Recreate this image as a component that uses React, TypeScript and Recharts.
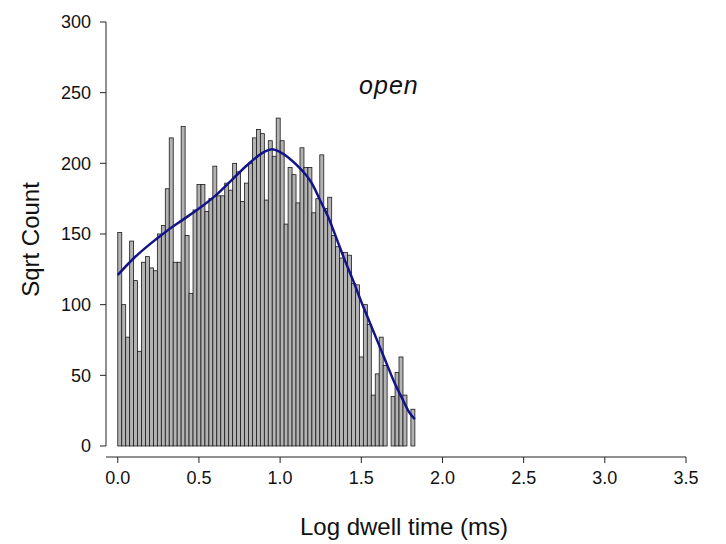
import {
  Bar,
  ComposedChart,
  Line,
  ReferenceDot,
  ReferenceLine,
  XAxis,
  YAxis,
} from "recharts";

// histogram of log dwell times, bins of 0.0244 starting at 0
const BIN_WIDTH = 0.0244;
const SQRT_COUNTS: (number | null)[] = [
  151, 100, 77, 145, 117, 67, 130, 134, 126, 124,
  150, 156, 182, 218, 130, 130, 226, 149, 108, 167,
  185, 185, 166, 175, 198, 177, 177, 186, 181, 200,
  194, 173, 186, 200, 218, 224, 221, 174, 216, 205,
  232, 216, 157, 197, 192, 172, 211, 197, 197, 165,
  175, 206, 168, 176, 149, 141, 133, 137, 135, 115,
  114, 63, 100, 86, 36, 51, 77, 57, null, 35,
  52, 63, 36, null, 26,
];

// fitted density curve
const FIT_X = [0, 0.1, 0.2, 0.3, 0.4, 0.5, 0.6, 0.7, 0.8, 0.9, 0.95, 1.0, 1.1, 1.2, 1.25, 1.3, 1.35, 1.4, 1.45, 1.5, 1.55, 1.6, 1.65, 1.7, 1.75, 1.8, 1.83];
const FIT_Y = [121, 133, 143, 152, 160, 168, 177, 188, 199, 208, 210, 208, 199, 185, 173, 161, 146, 131, 117, 102, 88, 74, 60, 46, 34, 23, 19];

const X_TICKS = [0, 0.5, 1.0, 1.5, 2.0, 2.5, 3.0, 3.5];
const Y_TICKS = [0, 50, 100, 150, 200, 250, 300];

const X_MIN = -0.0725;
const BAR_PX = 3.97;
const FONT = "'Liberation Sans', Arial, sans-serif";

const bars = SQRT_COUNTS.map((v, i) => ({ x: (i + 0.5) * BIN_WIDTH, count: v }));
const fit = FIT_X.map((x, i) => ({ x, fit: FIT_Y[i] }));

// draw each bin at full width around the centre the library computes
function BinShape(props: any) {
  const { x, y, width, height } = props;
  if (height == null || height <= 0) return null;
  const cx = x + width / 2;
  return (
    <rect
      x={cx - BAR_PX / 2}
      y={y}
      width={BAR_PX}
      height={height}
      fill="#b3b3b3"
      stroke="#1a1a1a"
      strokeWidth={0.8}
    />
  );
}

export default function App() {
  return (
    <div style={{ position: "absolute", left: 0, top: 0, width: 726, height: 544, background: "#fff" }}>
      <ComposedChart
        width={726}
        height={544}
        data={bars}
        margin={{ top: 22, right: 40, bottom: 0, left: 0 }}
        style={{ fontFamily: FONT }}
      >
        <XAxis
          type="number"
          dataKey="x"
          domain={[X_MIN, 3.5]}
          ticks={X_TICKS}
          allowDataOverflow
          tickFormatter={(v: number) => v.toFixed(1)}
          height={87}
          tickSize={6}
          tickMargin={8}
          stroke="#222"
          tick={{ fill: "#111", fontSize: 18 }}
          label={{ value: "Log dwell time (ms)", position: "insideBottom", offset: 9, dx: 8, fill: "#111", fontSize: 24 }}
        />
        <YAxis
          type="number"
          domain={[-7.8, 300]}
          ticks={Y_TICKS}
          allowDataOverflow
          axisLine={false}
          width={106}
          tickSize={6}
          tickMargin={9}
          stroke="#222"
          tick={{ fill: "#111", fontSize: 18 }}
          label={{ value: "Sqrt Count", angle: -90, position: "insideLeft", offset: 30, fill: "#111", fontSize: 24, style: { textAnchor: "middle" } }}
        />
        <ReferenceLine
          segment={[{ x: X_MIN, y: 0 }, { x: X_MIN, y: 300 }]}
          stroke="#222"
          strokeWidth={1}
        />
        <Bar
          dataKey="count"
          barSize={4}
          shape={BinShape}
          isAnimationActive={false}
        />
        <Line
          data={fit}
          dataKey="fit"
          type="monotone"
          stroke="#14148a"
          strokeWidth={2.5}
          dot={false}
          isAnimationActive={false}
        />
        <ReferenceDot
          x={1.67}
          y={255}
          r={0}
          fill="none"
          stroke="none"
          label={{ value: "open", position: "center", fill: "#111", fontSize: 25, fontStyle: "italic", letterSpacing: 1 }}
        />
      </ComposedChart>
    </div>
  );
}
